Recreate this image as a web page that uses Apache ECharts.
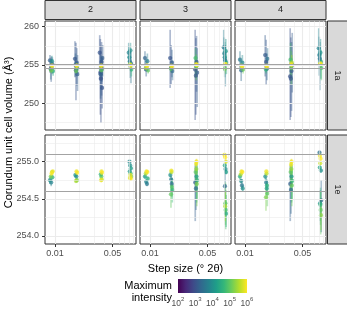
<!DOCTYPE html>
<html><head><meta charset="utf-8">
<script src="https://cdn.jsdelivr.net/npm/echarts@6/dist/echarts.min.js"></script>
<style>html,body{margin:0;padding:0;background:#fff}#c{width:347px;height:309px}</style>
</head><body><div id="c"></div>
<script>
// ---------- labels / ticks ----------
const columnLabels = ['2', '3', '4'];
const rowLabels = ['1a', '1e'];
const xTickValues = [0.01, 0.05];
const xMinorGrid = [0.008, 0.009, 0.02, 0.03, 0.04, 0.06, 0.07, 0.08, 0.09];
const yTicksTop = [250, 255, 260];
const yMinorTop = [247.5, 252.5, 257.5];
const yTicksBottom = [254.0, 254.5, 255.0];
const yMinorBottom = [254.25, 254.75, 255.25];
const referenceLines = [254.6, 255.1];
const intensityTicks = [2, 3, 4, 5, 6];
const colorbarRange = [[2, 6]];

// ---------- data: [step size, volume, lower, upper, log10(max intensity)] ----------
const pts_1a_2 = [
  [0.0087,255.6,254.0,256.3,3.2],[0.0090,254.6,252.8,256.1,3.15],[0.0093,255.1,253.8,256.0,3.25],
  [0.0089,254.4,253.1,255.6,3.4],[0.0092,255.5,254.7,256.2,4.0],[0.0095,254.2,253.6,254.8,4.5],
  [0.0090,254.3,253.9,254.7,5.2],[0.0091,254.9,254.7,255.1,5.9],[0.0093,254.9,254.8,255.0,6.0],
  [0.0175,255.8,253.4,258.1,3.1],[0.0180,254.3,250.4,257.9,3.05],[0.0184,255.3,252.3,257.2,3.15],
  [0.0188,253.8,251.6,256.3,3.2],[0.0178,255.0,253.5,256.5,3.35],[0.0186,254.6,253.9,255.4,4.1],
  [0.0181,254.2,253.8,254.6,5.1],[0.0182,254.9,254.7,255.1,5.9],[0.0185,254.9,254.8,255.0,6.0],
  [0.0350,256.6,253.0,258.9,3.05],[0.0356,254.0,248.5,258.4,3.0],[0.0362,253.2,247.4,257.5,3.0],
  [0.0368,255.4,251.0,258.0,3.1],[0.0374,252.0,249.3,255.9,3.05],[0.0380,255.9,253.5,257.6,3.15],
  [0.0359,253.8,250.6,256.3,3.2],[0.0371,254.5,252.8,256.1,3.3],[0.0366,254.3,253.8,254.8,5.0],
  [0.0362,254.9,254.7,255.1,5.9],[0.0369,254.9,254.8,255.0,6.0],
  [0.0788,256.6,255.2,257.9,3.8],[0.0800,256.0,254.6,257.5,3.9],[0.0812,255.5,253.3,257.0,3.6],
  [0.0826,256.9,255.8,257.9,4.0],[0.0838,255.2,252.6,256.7,3.5],[0.0848,254.4,253.5,255.4,4.6],
  [0.0818,255.1,254.8,255.5,5.3],[0.0822,255.0,254.8,255.2,5.9],[0.0832,254.9,254.8,255.1,6.0]
];
const pts_1a_3 = [
  [0.0087,255.9,254.2,256.8,3.3],[0.0090,254.4,253.5,255.7,3.2],[0.0093,255.5,254.5,256.5,3.7],
  [0.0095,254.3,253.9,254.8,5.0],[0.0089,254.6,254.3,254.9,5.4],[0.0091,254.9,254.7,255.1,5.9],
  [0.0093,254.9,254.8,255.0,6.0],
  [0.0176,255.9,252.0,259.6,3.05],[0.0181,254.6,252.5,257.6,3.1],[0.0185,255.3,253.4,257.0,3.2],
  [0.0188,254.2,253.0,255.6,3.35],[0.0180,254.5,254.0,254.9,5.0],[0.0182,254.9,254.7,255.1,5.9],
  [0.0185,254.8,254.6,255.0,6.0],
  [0.0354,254.4,247.8,259.6,3.0],[0.0361,253.6,248.5,258.5,3.05],[0.0368,255.4,251.5,258.8,3.1],
  [0.0375,254.0,249.5,257.2,3.15],[0.0358,255.9,253.3,257.2,4.8],[0.0366,254.8,253.0,256.4,5.1],
  [0.0371,255.0,254.5,255.5,5.6],[0.0364,255.1,254.9,255.3,5.9],[0.0368,255.0,254.8,255.2,6.0],
  [0.0788,257.3,255.5,259.6,3.7],[0.0800,256.5,254.2,258.6,3.8],[0.0810,256.0,253.4,258.0,3.9],
  [0.0822,255.6,252.2,257.6,3.6],[0.0834,256.8,255.4,258.4,4.1],[0.0847,255.3,253.8,256.4,4.4],
  [0.0815,254.5,253.9,255.0,5.2],[0.0820,255.1,254.9,255.3,5.9],[0.0830,255.1,254.9,255.3,6.0]
];
const pts_1a_4 = [
  [0.0087,255.7,254.5,256.8,3.6],[0.0090,254.3,252.9,255.6,3.35],[0.0093,255.3,254.3,256.3,3.9],
  [0.0095,254.4,253.9,254.9,5.1],[0.0091,254.9,254.7,255.1,5.9],[0.0093,254.8,254.7,255.0,6.0],
  [0.0176,256.3,253.5,258.9,3.15],[0.0181,255.4,252.4,258.3,3.1],[0.0185,254.5,253.0,256.5,3.3],
  [0.0188,255.8,254.4,257.2,3.5],[0.0180,254.4,253.9,254.9,4.6],[0.0182,254.9,254.7,255.1,5.9],
  [0.0185,254.8,254.7,255.0,6.0],
  [0.0354,253.5,247.8,259.8,3.0],[0.0361,253.2,248.2,258.6,3.05],[0.0368,254.2,249.0,258.0,3.1],
  [0.0375,255.0,251.4,259.2,3.15],[0.0358,255.7,253.2,257.9,4.8],[0.0366,254.6,252.4,256.8,5.0],
  [0.0371,255.3,254.3,256.3,5.5],[0.0364,255.1,254.9,255.3,5.9],[0.0368,255.0,254.8,255.2,6.0],
  [0.0788,257.2,255.3,259.8,3.8],[0.0800,256.3,253.6,258.7,3.7],[0.0812,255.8,251.7,258.0,3.5],
  [0.0826,256.6,254.8,258.4,4.0],[0.0838,255.4,253.2,257.0,4.3],[0.0848,254.6,253.0,255.8,4.9],
  [0.0818,255.1,254.9,255.4,5.6],[0.0822,255.1,254.9,255.3,5.9],[0.0832,255.2,255.0,255.4,6.0]
];
const pts_1e_2 = [
  [0.0087,254.75,254.70,254.80,4.0],[0.0090,254.72,254.67,254.77,3.8],[0.0093,254.79,254.76,254.83,4.5],
  [0.0089,254.80,254.78,254.83,5.2],[0.0092,254.86,254.84,254.88,5.7],[0.0091,254.84,254.82,254.86,6.0],
  [0.0094,254.87,254.85,254.89,5.9],
  [0.0177,254.82,254.79,254.85,4.1],[0.0182,254.80,254.77,254.83,3.9],[0.0185,254.75,254.72,254.78,5.2],
  [0.0180,254.74,254.72,254.77,5.5],[0.0183,254.87,254.85,254.89,5.9],[0.0186,254.85,254.83,254.87,6.0],
  [0.0361,254.83,254.80,254.86,4.6],[0.0366,254.80,254.78,254.83,4.9],[0.0370,254.76,254.74,254.78,5.6],
  [0.0364,254.75,254.73,254.77,5.9],[0.0368,254.87,254.85,254.89,5.9],[0.0372,254.85,254.83,254.87,6.0],
  [0.0805,255.00,254.98,255.02,3.9],[0.0820,254.95,254.93,254.97,4.0],[0.0838,254.91,254.89,254.93,4.2],
  [0.0812,254.87,254.85,254.89,4.1],[0.0830,254.84,254.82,254.86,4.8],[0.0845,254.80,254.78,254.82,5.2],
  [0.0815,254.78,254.76,254.80,5.8],[0.0835,254.77,254.75,254.79,6.0],[0.0825,254.82,254.80,254.84,5.9]
];
const pts_1e_3 = [
  [0.0087,254.80,254.77,254.83,4.2],[0.0090,254.73,254.70,254.76,3.8],[0.0092,254.70,254.67,254.73,3.6],
  [0.0094,254.77,254.74,254.80,4.5],[0.0089,254.84,254.82,254.86,5.5],[0.0091,254.87,254.85,254.89,5.9],
  [0.0093,254.86,254.84,254.88,6.0],
  [0.0177,254.82,254.79,254.86,4.0],[0.0181,254.76,254.70,254.81,3.7],[0.0184,254.70,254.60,254.78,3.4],
  [0.0187,254.62,254.45,254.75,4.6],[0.0180,254.56,254.38,254.70,5.0],[0.0185,254.66,254.52,254.78,4.9],
  [0.0183,254.86,254.84,254.88,5.6],[0.0182,254.88,254.86,254.90,5.9],
  [0.0355,254.72,254.20,254.95,3.2],[0.0362,254.64,254.35,254.90,3.4],[0.0368,254.80,254.45,255.00,4.2],
  [0.0374,254.75,254.50,254.95,4.5],[0.0359,254.86,254.60,255.02,5.0],[0.0366,254.90,254.70,255.03,5.4],
  [0.0371,254.70,254.40,254.90,5.2],[0.0364,254.97,254.93,255.01,5.9],[0.0368,255.00,254.96,255.04,6.0],
  [0.0805,255.09,255.06,255.12,5.9],[0.0820,255.06,255.03,255.09,6.0],[0.0835,255.00,254.97,255.03,5.8],
  [0.0812,254.95,254.92,254.98,4.3],[0.0828,254.90,254.87,254.93,4.0],[0.0842,254.86,254.83,254.89,4.2],
  [0.0815,254.67,254.30,254.90,3.4],[0.0825,254.44,254.15,254.72,5.0],[0.0832,254.35,254.09,254.62,4.8],
  [0.0840,254.30,254.12,254.55,4.4],[0.0820,254.40,254.20,254.60,5.5]
];
const pts_1e_4 = [
  [0.0087,254.80,254.77,254.83,4.5],[0.0090,254.74,254.71,254.77,3.9],[0.0092,254.68,254.63,254.72,3.6],
  [0.0094,254.64,254.60,254.68,4.0],[0.0089,254.83,254.81,254.85,5.5],[0.0091,254.87,254.85,254.89,5.9],
  [0.0093,254.86,254.84,254.88,6.0],
  [0.0177,254.80,254.76,254.84,4.0],[0.0181,254.72,254.66,254.78,3.7],[0.0184,254.64,254.55,254.72,4.2],
  [0.0187,254.57,254.40,254.70,5.0],[0.0180,254.52,254.34,254.66,5.2],[0.0185,254.68,254.58,254.76,4.5],
  [0.0183,254.84,254.82,254.86,5.6],[0.0182,254.87,254.85,254.89,5.9],
  [0.0355,254.70,254.20,254.95,3.2],[0.0362,254.62,254.30,254.90,3.3],[0.0368,254.80,254.45,255.00,4.1],
  [0.0374,254.74,254.48,254.95,4.6],[0.0359,254.86,254.60,255.02,5.0],[0.0366,254.90,254.70,255.03,5.4],
  [0.0371,254.68,254.40,254.90,5.1],[0.0364,254.96,254.92,255.00,5.9],[0.0368,255.00,254.96,255.04,6.0],
  [0.0805,255.12,255.09,255.15,3.5],[0.0815,255.08,255.05,255.11,5.9],[0.0830,255.04,255.01,255.07,6.0],
  [0.0822,254.98,254.95,255.01,5.7],[0.0812,254.92,254.89,254.95,4.3],[0.0838,254.88,254.85,254.91,4.0],
  [0.0845,254.48,254.05,254.75,3.3],[0.0825,254.42,254.15,254.65,4.6],[0.0832,254.35,254.02,254.60,5.0],
  [0.0840,254.28,254.08,254.50,5.3],[0.0818,254.44,254.20,254.62,4.0]
];
const panelData = [pts_1a_2, pts_1a_3, pts_1a_4, pts_1e_2, pts_1e_3, pts_1e_4];

// ---------- styling / layout ----------
const FONT = '"Liberation Sans", Arial, sans-serif';
const viridis = ['#440154','#482878','#3E4A89','#31688E','#26828E','#1F9E89','#35B779','#6DCD59','#B4DE2C','#FDE725'];
const colLeft = [45, 140, 235], colW = 91;
const rowTop = [21, 135], rowH = 109;
const xRange = [0.00757, 0.0965];
const yRanges = [[246.5, 260.75], [253.892, 255.359]];

const chart = echarts.init(document.getElementById('c'), null, {renderer: 'canvas'});
const grids = [], xAxes = [], yAxes = [], series = [], dataSeriesIdx = [];

for (let r = 0; r < 2; r++) {
  for (let c = 0; c < 3; c++) {
    const i = r * 3 + c;
    const isBottom = r === 1, isLeft = c === 0;
    const yTicks = r === 0 ? yTicksTop : yTicksBottom;
    const yMinor = r === 0 ? yMinorTop : yMinorBottom;
    grids.push({left: colLeft[c], top: rowTop[r], width: colW, height: rowH,
      show: true, borderColor: '#333333', borderWidth: 1, backgroundColor: '#fff', z: 0});
    xAxes.push({gridIndex: i, type: 'log', logBase: 10, min: xRange[0], max: xRange[1],
      axisLine: {show: false}, splitLine: {show: false},
      axisTick: {show: isBottom, customValues: xTickValues, length: 3, lineStyle: {color: '#333333', width: 1}},
      axisLabel: {show: isBottom, customValues: xTickValues, color: '#4D4D4D', fontSize: 9, fontFamily: FONT, margin: 5,
        formatter: v => (+v).toFixed(2)}});
    yAxes.push({gridIndex: i, type: 'value', min: yRanges[r][0], max: yRanges[r][1],
      axisLine: {show: false}, splitLine: {show: false},
      axisTick: {show: isLeft, customValues: yTicks, length: 3, lineStyle: {color: '#333333', width: 1}},
      axisLabel: {show: isLeft, customValues: yTicks, color: '#4D4D4D', fontSize: 9, fontFamily: FONT, margin: 6,
        formatter: v => r === 0 ? String(Math.round(v)) : (+v).toFixed(1)}});
    const gl = [];
    xTickValues.forEach(v => gl.push({xAxis: v, lineStyle: {color: '#EBEBEB', width: 1.1, type: 'solid'}}));
    xMinorGrid.forEach(v => gl.push({xAxis: v, lineStyle: {color: '#EBEBEB', width: 0.6, type: 'solid'}}));
    yTicks.forEach(v => gl.push({yAxis: v, lineStyle: {color: '#EBEBEB', width: 1.1, type: 'solid'}}));
    yMinor.forEach(v => gl.push({yAxis: v, lineStyle: {color: '#EBEBEB', width: 0.6, type: 'solid'}}));
    series.push({type: 'line', xAxisIndex: i, yAxisIndex: i, data: [], silent: true, z: 1,
      markLine: {silent: true, symbol: ['none', 'none'], label: {show: false}, animation: false,
        lineStyle: {type: 'solid'}, data: gl}});
    series.push({type: 'line', xAxisIndex: i, yAxisIndex: i, data: [], silent: true, z: 2,
      markLine: {silent: true, symbol: ['none', 'none'], label: {show: false}, animation: false,
        lineStyle: {type: 'solid', color: '#A3A3A3', width: 1},
        data: referenceLines.map(v => ({yAxis: v}))}});
    const sorted = panelData[i].slice().sort((a, b) => a[4] - b[4]);
    dataSeriesIdx.push(series.length);
    series.push({type: 'custom', xAxisIndex: i, yAxisIndex: i, data: sorted, silent: true, z: 3, clip: true,
      encode: {x: 0, y: [1, 2, 3]},
      renderItem: (params, api) => {
        const x = api.value(0);
        const a = api.coord([x, api.value(2)]);
        const b = api.coord([x, api.value(3)]);
        return {type: 'line', shape: {x1: a[0], y1: a[1], x2: b[0], y2: b[1]},
          style: {stroke: api.visual('color'), lineWidth: 1.7, opacity: 0.4}};
      }});
    dataSeriesIdx.push(series.length);
    series.push({type: 'scatter', xAxisIndex: i, yAxisIndex: i, data: sorted, silent: true, z: 4, clip: true,
      symbolSize: 4.3, itemStyle: {opacity: 0.7}});
  }
}

// colorbar legend grid
grids.push({left: 178, top: 279, width: 69, height: 14, show: false});
xAxes.push({gridIndex: 6, type: 'value', min: 2, max: 6, interval: 1, position: 'bottom',
  axisLine: {show: false}, splitLine: {show: false},
  axisTick: {show: true, inside: true, length: 3, lineStyle: {color: '#FFFFFF', width: 1}},
  axisLabel: {show: true, color: '#4D4D4D', fontSize: 8.5, fontFamily: FONT, margin: 3,
    formatter: v => '{b|10}{s|' + v + '}',
    rich: {
      b: {fontSize: 8.5, fontFamily: FONT, color: '#4D4D4D', lineHeight: 12, verticalAlign: 'bottom'},
      s: {fontSize: 6, fontFamily: FONT, color: '#4D4D4D', lineHeight: 7, verticalAlign: 'top'}
    }}});
xAxes.push({gridIndex: 6, type: 'value', min: 2, max: 6, interval: 1, position: 'top',
  axisLine: {show: false}, splitLine: {show: false}, axisLabel: {show: false},
  axisTick: {show: true, inside: true, length: 3, lineStyle: {color: '#FFFFFF', width: 1}}});
yAxes.push({gridIndex: 6, type: 'value', min: 0, max: 1, show: false});
series.push({type: 'custom', xAxisIndex: 6, yAxisIndex: 6, data: colorbarRange, silent: true, z: 1,
  renderItem: (params, api) => {
    const p0 = api.coord([api.value(0), 1]);
    const p1 = api.coord([api.value(1), 0]);
    return {type: 'rect', shape: {x: p0[0], y: p0[1], width: p1[0] - p0[0], height: p1[1] - p0[1]},
      style: {fill: new echarts.graphic.LinearGradient(0, 0, 1, 0,
        viridis.map((col, k) => ({offset: k / (viridis.length - 1), color: col})))}};
  }});

// strips and titles
const graphics = [];
columnLabels.forEach((t, c) => {
  graphics.push({type: 'rect', shape: {x: colLeft[c], y: 0.5, width: colW, height: 19},
    style: {fill: '#D9D9D9', stroke: '#333333', lineWidth: 1}, silent: true});
  graphics.push({type: 'text', x: colLeft[c] + colW / 2, y: 10,
    style: {text: t, font: '9px ' + FONT, fill: '#1A1A1A', align: 'center', verticalAlign: 'middle'}, silent: true});
});
rowLabels.forEach((t, r) => {
  graphics.push({type: 'rect', shape: {x: 327.5, y: rowTop[r], width: 20, height: rowH},
    style: {fill: '#D9D9D9', stroke: '#333333', lineWidth: 1}, silent: true});
  graphics.push({type: 'text', x: 337, y: rowTop[r] + rowH / 2, rotation: -Math.PI / 2,
    style: {text: t, font: '9px ' + FONT, fill: '#1A1A1A', align: 'center', verticalAlign: 'middle'}, silent: true});
});
graphics.push({type: 'text', x: 185.5, y: 269,
  style: {text: 'Step size (° 2θ)', font: '11px ' + FONT, fill: '#000', align: 'center', verticalAlign: 'middle'}, silent: true});
graphics.push({type: 'text', x: 8.5, y: 132.5, rotation: Math.PI / 2,
  style: {text: 'Corundum unit cell volume (Å³)', font: '11px ' + FONT, fill: '#000', align: 'center', verticalAlign: 'middle'}, silent: true});
graphics.push({type: 'text', x: 172, y: 292,
  style: {text: 'Maximum\nintensity', font: '11px ' + FONT, fill: '#000', align: 'right', verticalAlign: 'middle', lineHeight: 11.5}, silent: true});

chart.setOption({
  animation: false,
  backgroundColor: '#FFFFFF',
  grid: grids, xAxis: xAxes, yAxis: yAxes, series: series,
  visualMap: {type: 'continuous', show: false, min: 2, max: 6, dimension: 4,
    seriesIndex: dataSeriesIdx, inRange: {color: viridis}},
  graphic: graphics
});
</script>
</body></html>
